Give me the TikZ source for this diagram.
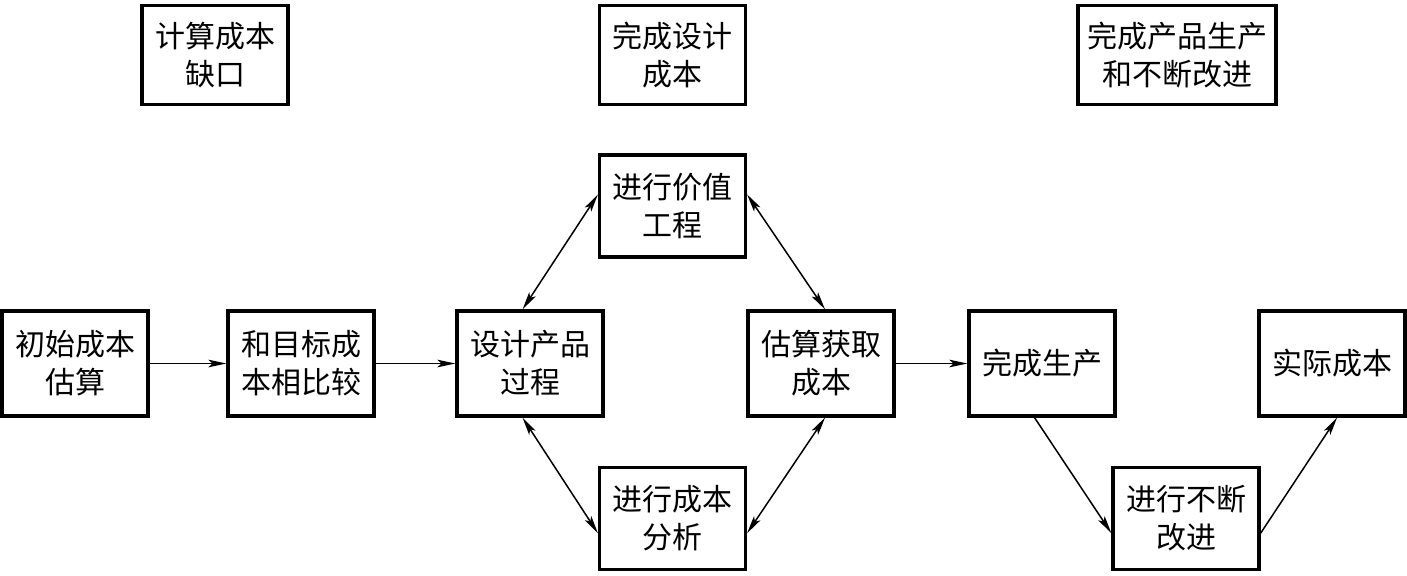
\documentclass[tikz,border=0pt]{standalone}
\usepackage{fontspec}
\newfontfamily\cjk{Noto Sans CJK SC}
\usetikzlibrary{arrows.meta,calc}
\begin{document}
\begin{tikzpicture}[x=0.5pt,y=-0.5pt,
  box/.style={draw,line width=1.6pt,minimum width=73pt,minimum height=51pt,inner sep=0pt,align=center,font=\cjk\fontsize{15pt}{19pt}\selectfont},
  conn/.style={line width=0.75pt,-{Stealth[length=9pt,width=3.8pt,inset=2pt]}},
  biconn/.style={line width=0.75pt,{Stealth[length=9pt,width=3.8pt,inset=2pt]}-{Stealth[length=9pt,width=3.8pt,inset=2pt]}}]
\useasboundingbox (0,0) rectangle (1407,575);
\node[box,minimum height=49.5pt] (gap) at (215,55) {计算成本\\缺口};
\node[box,minimum height=49.5pt] (design) at (672.5,55) {完成设计\\成本};
\node[box,minimum height=49.5pt,minimum width=99pt] (prod) at (1177,55) {完成产品生产\\和不断改进};
\node[box] (ve) at (672.5,206) {进行价值\\工程};
\node[box,minimum height=52.5pt] (init) at (75,363.5) {初始成本\\估算};
\node[box,minimum height=52.5pt] (cmp) at (301,363.5) {和目标成\\本相比较};
\node[box,minimum height=52.5pt] (dp) at (530,363.5) {设计产品\\过程};
\node[box,minimum height=52.5pt] (est) at (821,363.5) {估算获取\\成本};
\node[box,minimum height=52.5pt] (done) at (1042,363.5) {完成生产};
\node[box,minimum height=52.5pt] (act) at (1332,363.5) {实际成本};
\node[box] (ca) at (672.5,518.5) {进行成本\\分析};
\node[box] (ci) at (1186,518.5) {进行不断\\改进};
\draw[conn] (init.east) -- (cmp.west);
\draw[conn] (cmp.east) -- (dp.west);
\draw[conn] (est.east) -- (done.west);
\draw[biconn] ($(dp.north west)!0.45!(dp.north east)$) -- ($(ve.north west)!0.39!(ve.south west)$);
\draw[biconn] ($(ve.north east)!0.39!(ve.south east)$) -- ($(est.north west)!0.527!(est.north east)$);
\draw[biconn] ($(dp.south west)!0.45!(dp.south east)$) -- ($(ca.north west)!0.64!(ca.south west)$);
\draw[biconn] ($(est.south west)!0.527!(est.south east)$) -- ($(ca.north east)!0.64!(ca.south east)$);
\draw[conn] ($(done.south west)!0.45!(done.south east)$) -- ($(ci.north west)!0.64!(ci.south west)$);
\draw[conn] ($(ci.north east)!0.64!(ci.south east)$) -- ($(act.south west)!0.534!(act.south east)$);
\end{tikzpicture}
\end{document}
